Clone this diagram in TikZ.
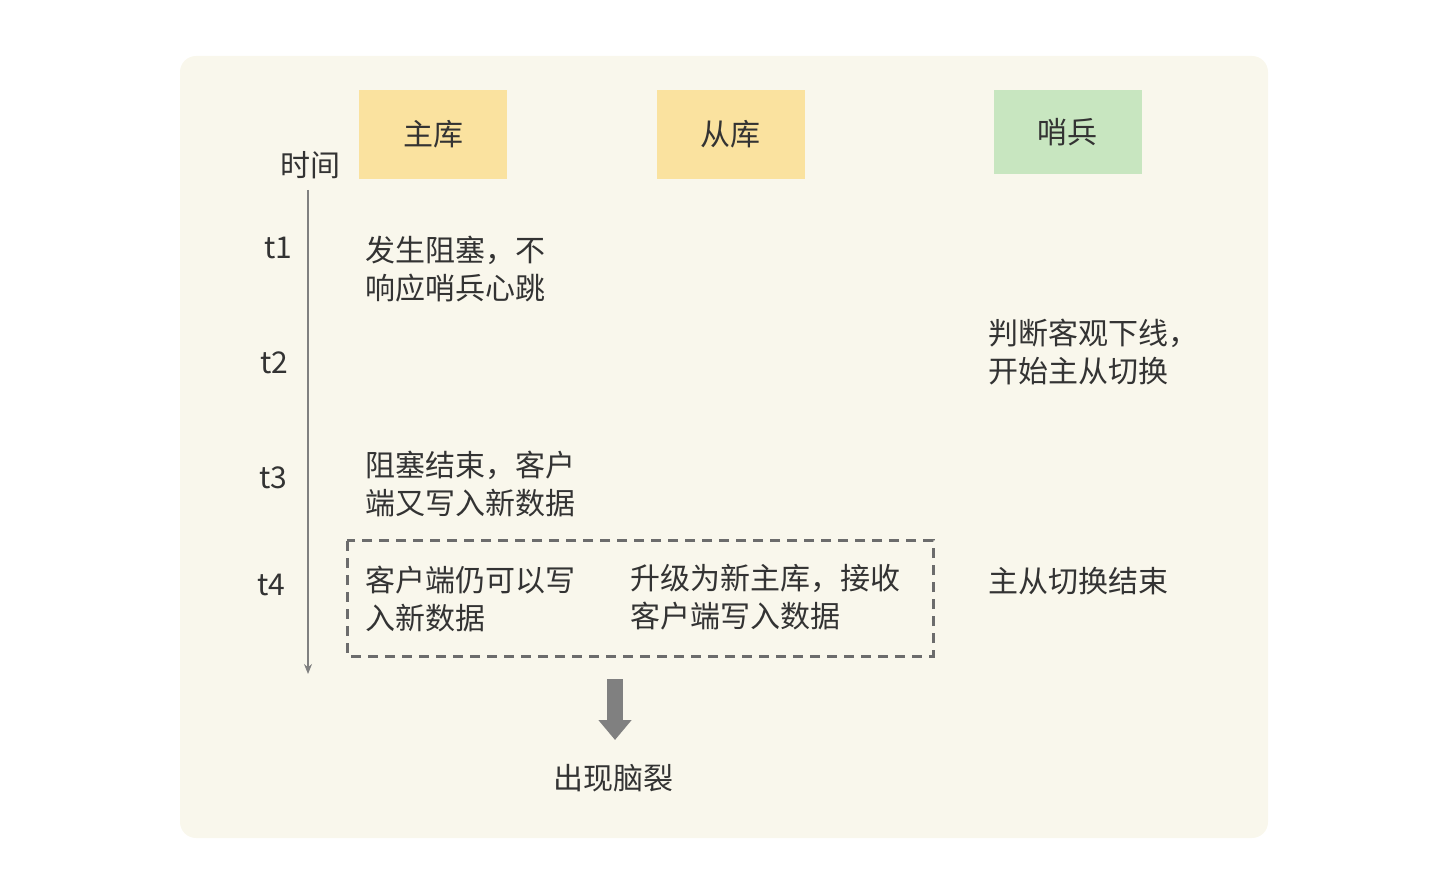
\documentclass[tikz,border=0pt]{standalone}
\usepackage{fontspec}
\setmainfont{Noto Sans CJK SC}
\usetikzlibrary{arrows.meta,shapes.arrows}
\definecolor{bgc}{HTML}{F9F7EC}
\definecolor{yel}{HTML}{FAE29F}
\definecolor{grn}{HTML}{C8E6C0}
\definecolor{txt}{HTML}{333333}
\tikzset{
  hdr/.style={minimum width=74pt,inner sep=0pt,font=\fontsize{15}{19}\selectfont,text=txt},
  lbl/.style={anchor=west,align=left,inner sep=0pt,font=\fontsize{15}{19}\selectfont,text=txt},
  tl/.style={inner sep=0pt,font=\fontsize{15}{19}\selectfont,text=txt}
}
\begin{document}
\begin{tikzpicture}[x=0.5pt,y=-0.5pt]
\useasboundingbox (0,0) rectangle (1454,886);
\fill[bgc,rounded corners=8pt] (180,56) rectangle (1268,838);
\node[hdr,fill=yel,minimum height=44.5pt] (zk) at (433,134.5) {主库};
\node[hdr,fill=yel,minimum height=44.5pt] (ck) at (730.5,134.5) {从库};
\node[hdr,fill=grn,minimum height=42pt] (sb) at (1067.5,132) {哨兵};
\node[tl] (sj) at (310,165) {时间};
\coordinate (ta) at (308,190);
\coordinate (tb) at (308,674);
\draw[gray,line width=0.6pt,-{Stealth[length=5pt,width=4pt]}] (ta) -- (tb);
\node[tl] (t1) at (278,248) {t1};
\node[tl] (t2) at (274,363) {t2};
\node[tl] (t3) at (273,478) {t3};
\node[tl] (t4) at (271,585) {t4};
\node[lbl] (a1) at (365,269) {发生阻塞，不\\响应哨兵心跳};
\node[lbl] (a2) at (988,352) {判断客观下线，\\开始主从切换};
\node[lbl] (a3) at (365,484) {阻塞结束，客户\\端又写入新数据};
\draw[gray!85!black,dashed,line width=1.5pt,dash pattern=on 5pt off 3.5pt] (347,541) rectangle (933,656);
\node[lbl] (a4) at (365,599) {客户端仍可以写\\入新数据};
\node[lbl] (a5) at (630,597) {升级为新主库，接收\\客户端写入数据};
\node[lbl] (a6) at (988,581) {主从切换结束};
\coordinate (da) at (615,679);
\coordinate (db) at (615,740);
\draw[gray,line width=8pt,-{Triangle[length=10pt,width=16pt]}] (da) -- (db);
\node[tl] (nl) at (613,778) {出现脑裂};
\end{tikzpicture}
\end{document}
